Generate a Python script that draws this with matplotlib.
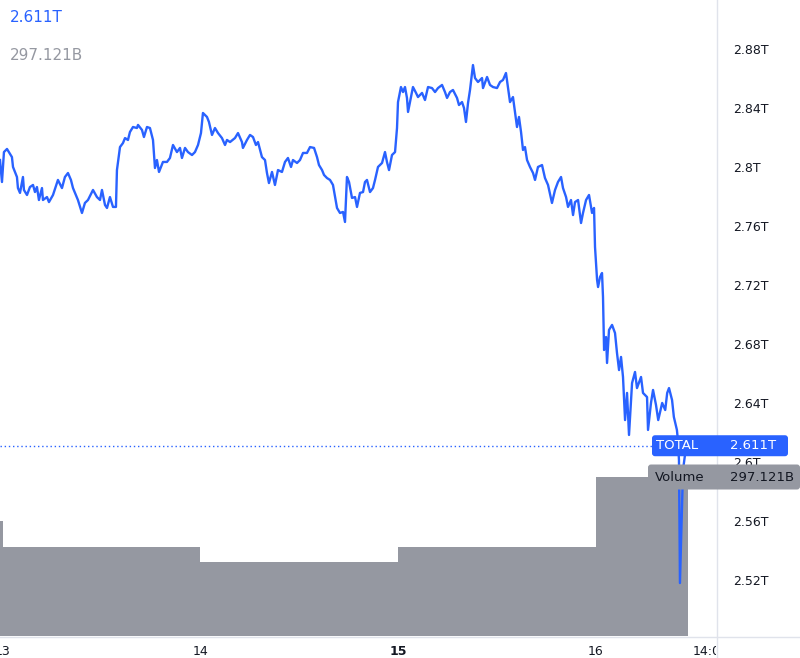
import numpy as np
import matplotlib
matplotlib.use("Agg")
import matplotlib.pyplot as plt
from matplotlib.patches import FancyBboxPatch
from matplotlib.lines import Line2D
import matplotlib.transforms as mtransforms

# hours since the 13th 00:00, total crypto market cap in trillions
hours = [-0.36, -0.12, 0.12, 0.49, 1.09, 1.22, 1.70, 1.82, 2.07, 2.43, 2.55, 2.92, 3.28, 3.65, 3.89,
         4.13, 4.37, 4.74, 4.86, 5.35, 5.59, 6.08, 6.68, 7.17, 7.53, 7.90, 8.26, 8.51, 8.75, 9.11,
         9.60, 9.96, 10.33, 10.94, 11.42, 11.79, 12.03, 12.40, 12.64, 13.00, 13.37, 13.73, 13.85,
         14.22, 14.58, 14.83, 15.19, 15.43, 15.80, 16.28, 16.41, 16.89, 17.13, 17.50, 17.86, 18.23,
         18.47, 18.71, 18.96, 19.44, 19.93, 20.29,
         20.66, 21.14, 21.51, 21.75, 22.12, 22.48, 22.97, 23.33, 23.70, 24.06, 24.30, 24.79, 25.03,
         25.40, 25.76, 26.13, 26.61, 26.98, 27.22, 27.59, 28.19, 28.56, 29.04, 29.16, 29.65, 30.02,
         30.38, 30.74, 30.99, 31.47, 31.84, 32.08, 32.32, 32.69, 33.05, 33.42, 33.90, 34.27, 34.63,
         35.00, 35.24, 35.73, 36.09, 36.46, 36.94, 37.31, 37.80, 38.16, 38.40, 38.77, 39.01, 39.37,
         39.74, 40.10,
         40.59, 40.95, 41.32, 41.56, 41.80, 42.05, 42.41, 42.78, 43.02, 43.38, 43.75, 43.99, 44.23,
         44.60, 44.96, 45.21, 45.57, 46.06, 46.42, 46.66, 46.91, 47.27, 47.64, 47.88, 48.00, 48.36,
         48.61, 48.85, 49.09, 49.22, 49.58, 49.82, 50.19, 50.43, 50.92, 51.28, 51.65, 52.13, 52.50,
         52.86, 53.35, 53.71, 53.96, 54.32, 54.68, 55.17, 55.41, 55.78, 56.02, 56.26, 56.51, 56.75,
         57.11, 57.36, 57.72, 58.21, 58.33, 58.82, 59.18, 59.54, 60.03, 60.40, 60.76, 61.12, 61.37,
         61.61, 61.97, 62.22, 62.46, 62.70, 62.95,
         63.19, 63.43, 63.68, 64.04, 64.41, 64.65, 65.01, 65.50, 65.86, 66.23, 66.71, 67.08, 67.44,
         67.81, 68.05, 68.42, 68.66, 69.02, 69.27, 69.51, 69.88, 70.24, 70.48, 70.85, 71.21, 71.58,
         71.82,
         71.94, 72.19, 72.31, 72.55, 72.79, 72.91, 73.04, 73.28, 73.40, 73.64, 74.01, 74.37, 74.61,
         74.86, 75.10, 75.34, 75.59, 75.83, 76.07, 76.44, 76.80, 77.04, 77.53, 77.77, 78.26, 78.38,
         78.74, 78.99, 79.35, 79.62, 80.10, 80.47, 80.71, 80.93, 81.30, 81.52, 81.89, 82.01,
         82.14, 82.26, 82.63, 82.87, 83.24]

total_t = [2.8047, 2.7898, 2.8101, 2.8122, 2.8067, 2.8000, 2.7932, 2.7857, 2.7824, 2.7932, 2.7844,
           2.7810, 2.7864, 2.7878, 2.7830, 2.7864, 2.7776, 2.7857, 2.7776, 2.7796, 2.7762, 2.7810,
           2.7912, 2.7857, 2.7932, 2.7959, 2.7912, 2.7857, 2.7824, 2.7776, 2.7688, 2.7756, 2.7776,
           2.7844, 2.7796, 2.7776, 2.7844, 2.7742, 2.7722, 2.7796, 2.7729, 2.7729, 2.7979, 2.8135,
           2.8162, 2.8196, 2.8183, 2.8237, 2.8271, 2.8264, 2.8285, 2.8251, 2.8203, 2.8271, 2.8264,
           2.8183, 2.7993, 2.8047, 2.7966, 2.8034, 2.8034, 2.8061,
           2.8149, 2.8101, 2.8129, 2.8061, 2.8129, 2.8101, 2.8081, 2.8101, 2.8149, 2.8230, 2.8366,
           2.8339, 2.8305, 2.8217, 2.8264, 2.8230, 2.8196, 2.8149, 2.8183, 2.8169, 2.8196, 2.8230,
           2.8169, 2.8129, 2.8183, 2.8217, 2.8203, 2.8149, 2.8169, 2.8067, 2.8047, 2.7959, 2.7891,
           2.7966, 2.7878, 2.7979, 2.7966, 2.8034, 2.8061, 2.8000, 2.8047, 2.8027, 2.8047, 2.8095,
           2.8095, 2.8135, 2.8129, 2.8067, 2.8013, 2.7979, 2.7946, 2.7925, 2.7912, 2.7878,
           2.7722, 2.7688, 2.7695, 2.7627, 2.7932, 2.7898, 2.7790, 2.7796, 2.7729, 2.7824, 2.7830,
           2.7898, 2.7912, 2.7830, 2.7857, 2.7912, 2.8000, 2.8027, 2.8101, 2.8034, 2.7979, 2.8081,
           2.8101, 2.8264, 2.8440, 2.8542, 2.8508, 2.8542, 2.8468, 2.8373, 2.8474, 2.8542, 2.8502,
           2.8474, 2.8502, 2.8454, 2.8542, 2.8535, 2.8508, 2.8535, 2.8556, 2.8508, 2.8468, 2.8508,
           2.8522, 2.8468, 2.8420, 2.8440, 2.8400, 2.8305, 2.8434, 2.8522, 2.8691, 2.8603, 2.8576,
           2.8603, 2.8535, 2.8610, 2.8556, 2.8542, 2.8535, 2.8576, 2.8590, 2.8637, 2.8535, 2.8440,
           2.8474, 2.8373, 2.8271, 2.8339, 2.8237,
           2.8115, 2.8135, 2.8047, 2.8000, 2.7959, 2.7912, 2.8000, 2.8013, 2.7925, 2.7878, 2.7756,
           2.7844, 2.7898, 2.7932, 2.7857, 2.7796, 2.7729, 2.7776, 2.7674, 2.7762, 2.7776, 2.7620,
           2.7688, 2.7776, 2.7810, 2.7688, 2.7722,
           2.7457, 2.7234, 2.7186, 2.7254, 2.7281, 2.7118, 2.6759, 2.6847, 2.6671, 2.6895, 2.6929,
           2.6874, 2.6739, 2.6623, 2.6712, 2.6576, 2.6284, 2.6468, 2.6183, 2.6535, 2.6610, 2.6501,
           2.6576, 2.6468, 2.6440, 2.6217, 2.6400, 2.6488, 2.6386, 2.6284, 2.6400, 2.6352, 2.6468,
           2.6501, 2.6420, 2.6305, 2.6217, 2.6149,
           2.6013, 2.5179, 2.5945, 2.6047, 2.611]

# daily volume bars (start hour, volume in billions)
vol_hours = [-24, 0, 24, 48, 72]
vol_b = [215, 166, 138, 166, 297.121]

time_ticks = [0, 24, 48, 72, 86]
time_labels = ["13", "14", "15", "16", "14:00"]
price_ticks = [2.52, 2.56, 2.60, 2.64, 2.68, 2.72, 2.76, 2.80, 2.84, 2.88]

BLUE = "#2962ff"
GREY = "#9598a1"
TEXT = "#131722"
BORDER = "#e0e3eb"

W, H = 800, 658
fig = plt.figure(figsize=(8, 6.58), dpi=100)
right = 716 / W
bottom = 22 / H
xlim = (-0.36, 86.64)

vax = fig.add_axes([0, bottom, right, 1 - bottom], zorder=1)
edges = vol_hours + [hours[-1]]
vax.bar(vol_hours, vol_b, width=np.diff(edges), align="edge", color=GREY, linewidth=0)
vax.set_xlim(xlim)
vax.set_ylim(0, 1188.5)
vax.axis("off")

ax = fig.add_axes([0, bottom, right, 1 - bottom], zorder=2)
ax.patch.set_alpha(0)
ax.plot(hours, total_t, color=BLUE, lw=1.7, solid_joinstyle="round")
ax.axhline(total_t[-1], color=BLUE, lw=1, ls=(0, (1, 2)))
ax.set_xlim(xlim)
ax.set_ylim(2.482, 2.9132)
for s in ax.spines.values():
    s.set_visible(False)
ax.set_xticks([])
ax.yaxis.tick_right()
ax.set_yticks(price_ticks)
ax.set_yticklabels([f"{p:.2f}".rstrip("0").rstrip(".") + "T" for p in price_ticks])
ax.tick_params(axis="y", length=0, pad=12, labelsize=9, labelcolor=TEXT)

# time scale strip
tax = fig.add_axes([0, 0, right, bottom])
tax.set_xlim(xlim)
tax.set_ylim(0, 1)
tax.axis("off")
for t, lab in zip(time_ticks, time_labels):
    tax.text(t, 0.3, lab, ha="center", va="center", fontsize=9, color=TEXT,
             fontweight="bold" if lab == "15" else "normal", clip_on=True)

# borders
ident = mtransforms.IdentityTransform()
fig.add_artist(Line2D([716.5, 716.5], [0, H], color=BORDER, lw=1, transform=ident, zorder=3))
fig.add_artist(Line2D([0, W], [21.5, 21.5], color=BORDER, lw=1, transform=ident, zorder=3))

# legend values top-left
fig.text(10 / W, 1 - 18 / H, "2.611T", color=BLUE, fontsize=11, va="center")
fig.text(10 / W, 1 - 56 / H, "297.121B", color=GREY, fontsize=11, va="center")

# last value labels on the price scale
y_price = ax.transData.transform((0, total_t[-1]))[1]
y_vol = vax.transData.transform((0, vol_b[-1]))[1]

fig.add_artist(FancyBboxPatch((652, y_price - 10.5), 136, 21, boxstyle="round,pad=0,rounding_size=3",
                              fc=BLUE, ec="none", transform=ident, zorder=5))
fig.text(656, y_price, "TOTAL", color="white", fontsize=9.5, va="center", transform=ident, zorder=6)
fig.text(730, y_price, "2.611T", color="white", fontsize=9.5, va="center", transform=ident, zorder=6)

fig.add_artist(FancyBboxPatch((648, y_vol - 12.5), 152, 25, boxstyle="round,pad=0,rounding_size=3",
                              fc=GREY, ec="none", transform=ident, zorder=5))
fig.text(655, y_vol, "Volume", color=TEXT, fontsize=9.5, va="center", transform=ident, zorder=6)
fig.text(730, y_vol, "297.121B", color=TEXT, fontsize=9.5, va="center", transform=ident, zorder=6)

fig.savefig("out.png", dpi=100)
